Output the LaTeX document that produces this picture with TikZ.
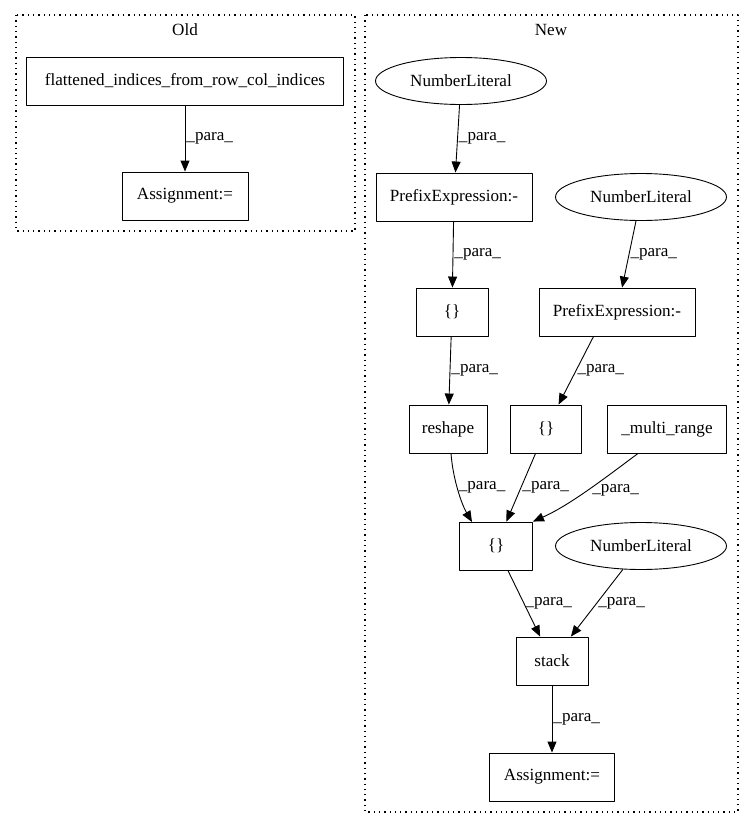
\documentclass[tikz,border=0pt]{standalone}
\usepackage{fontspec}
\setmainfont{Liberation Serif}
\usetikzlibrary{arrows.meta,shapes.geometric}
\tikzset{
  ast diagram/.style={font=\fontsize{17.1}{20}\selectfont, line cap=round, line join=round},
  ast box/.style={draw, line width=0.9pt, rectangle, minimum height=48pt, inner sep=0pt},
  ast literal/.style={draw, line width=0.9pt, ellipse, minimum width=171pt, minimum height=47pt, inner sep=0pt},
  ast edge/.style={-{Triangle[length=11pt,width=9pt]}, line width=0.9pt},
  ast label/.style={anchor=west, inner sep=1pt},
  ast cluster/.style={dash pattern=on 1.3pt off 4pt, line width=1.1pt, line cap=butt}
}
\begin{document}
\begin{tikzpicture}[ast diagram,x=1pt,y=-1pt]
\useasboundingbox (0,0) rectangle (753,828);
% clusters
\draw[ast cluster] (16,15) rectangle (355,231);
\node (oldtitle) at (185,30) {Old};
\draw[ast cluster] (365,15) rectangle (738,812);
\node (newtitle) at (551,30) {New};
% old
\node[ast box, minimum width=317pt] (flat) at (185,81) {flattened\_indices\_from\_row\_col\_indices};
\node[ast box, minimum width=126pt] (oldassign) at (185,196) {Assignment:=};
\draw[ast edge] (flat) -- node[ast label] {\_para\_} (oldassign);
% new
\node[ast literal] (lit1) at (461,81) {NumberLiteral};
\node[ast box, minimum width=156pt] (prefix1) at (454,197) {PrefixExpression:-};
\node[ast literal] (lit2) at (641,197) {NumberLiteral};
\node[ast box, minimum width=72pt] (brace1) at (452,312) {\{\}};
\node[ast box, minimum width=156pt] (prefix2) at (617,312) {PrefixExpression:-};
\node[ast box, minimum width=78pt] (reshape) at (448,429) {reshape};
\node[ast box, minimum width=71pt] (brace2) at (546,429) {\{\}};
\node[ast box, minimum width=119pt] (multi) at (667,429) {\_multi\_range};
\node[ast box, minimum width=73pt] (brace3) at (496,546) {\{\}};
\node[ast literal] (lit3) at (641,546) {NumberLiteral};
\node[ast box, minimum width=72pt] (stack) at (552,661) {stack};
\node[ast box, minimum width=125pt] (newassign) at (552,777) {Assignment:=};
\draw[ast edge] (lit1) -- node[ast label] {\_para\_} (prefix1);
\draw[ast edge] (prefix1) -- node[ast label] {\_para\_} (brace1);
\draw[ast edge] (lit2) -- node[ast label] {\_para\_} (prefix2);
\draw[ast edge] (brace1) -- node[ast label] {\_para\_} (reshape);
\draw[ast edge] (prefix2.south west) ++(55,0) coordinate (p2out) (p2out) -- node[ast label] {\_para\_} (brace2);
\draw[ast edge] (reshape.south) ++(3,0) .. controls (453,480) and (462,505) .. node[ast label, pos=0.45] {\_para\_} (472,522);
\draw[ast edge] (brace2) -- node[ast label] {\_para\_} (brace3);
\draw[ast edge] (multi.south) ++(-29,0) .. controls (605,478) and (570,505) .. node[ast label, pos=0.5, xshift=4pt] {\_para\_} (brace3.north east);
\draw[ast edge] (brace3) -- node[ast label] {\_para\_} (stack);
\draw[ast edge] (lit3) -- node[ast label] {\_para\_} (stack);
\draw[ast edge] (stack) -- node[ast label] {\_para\_} (newassign);
\end{tikzpicture}
\end{document}
